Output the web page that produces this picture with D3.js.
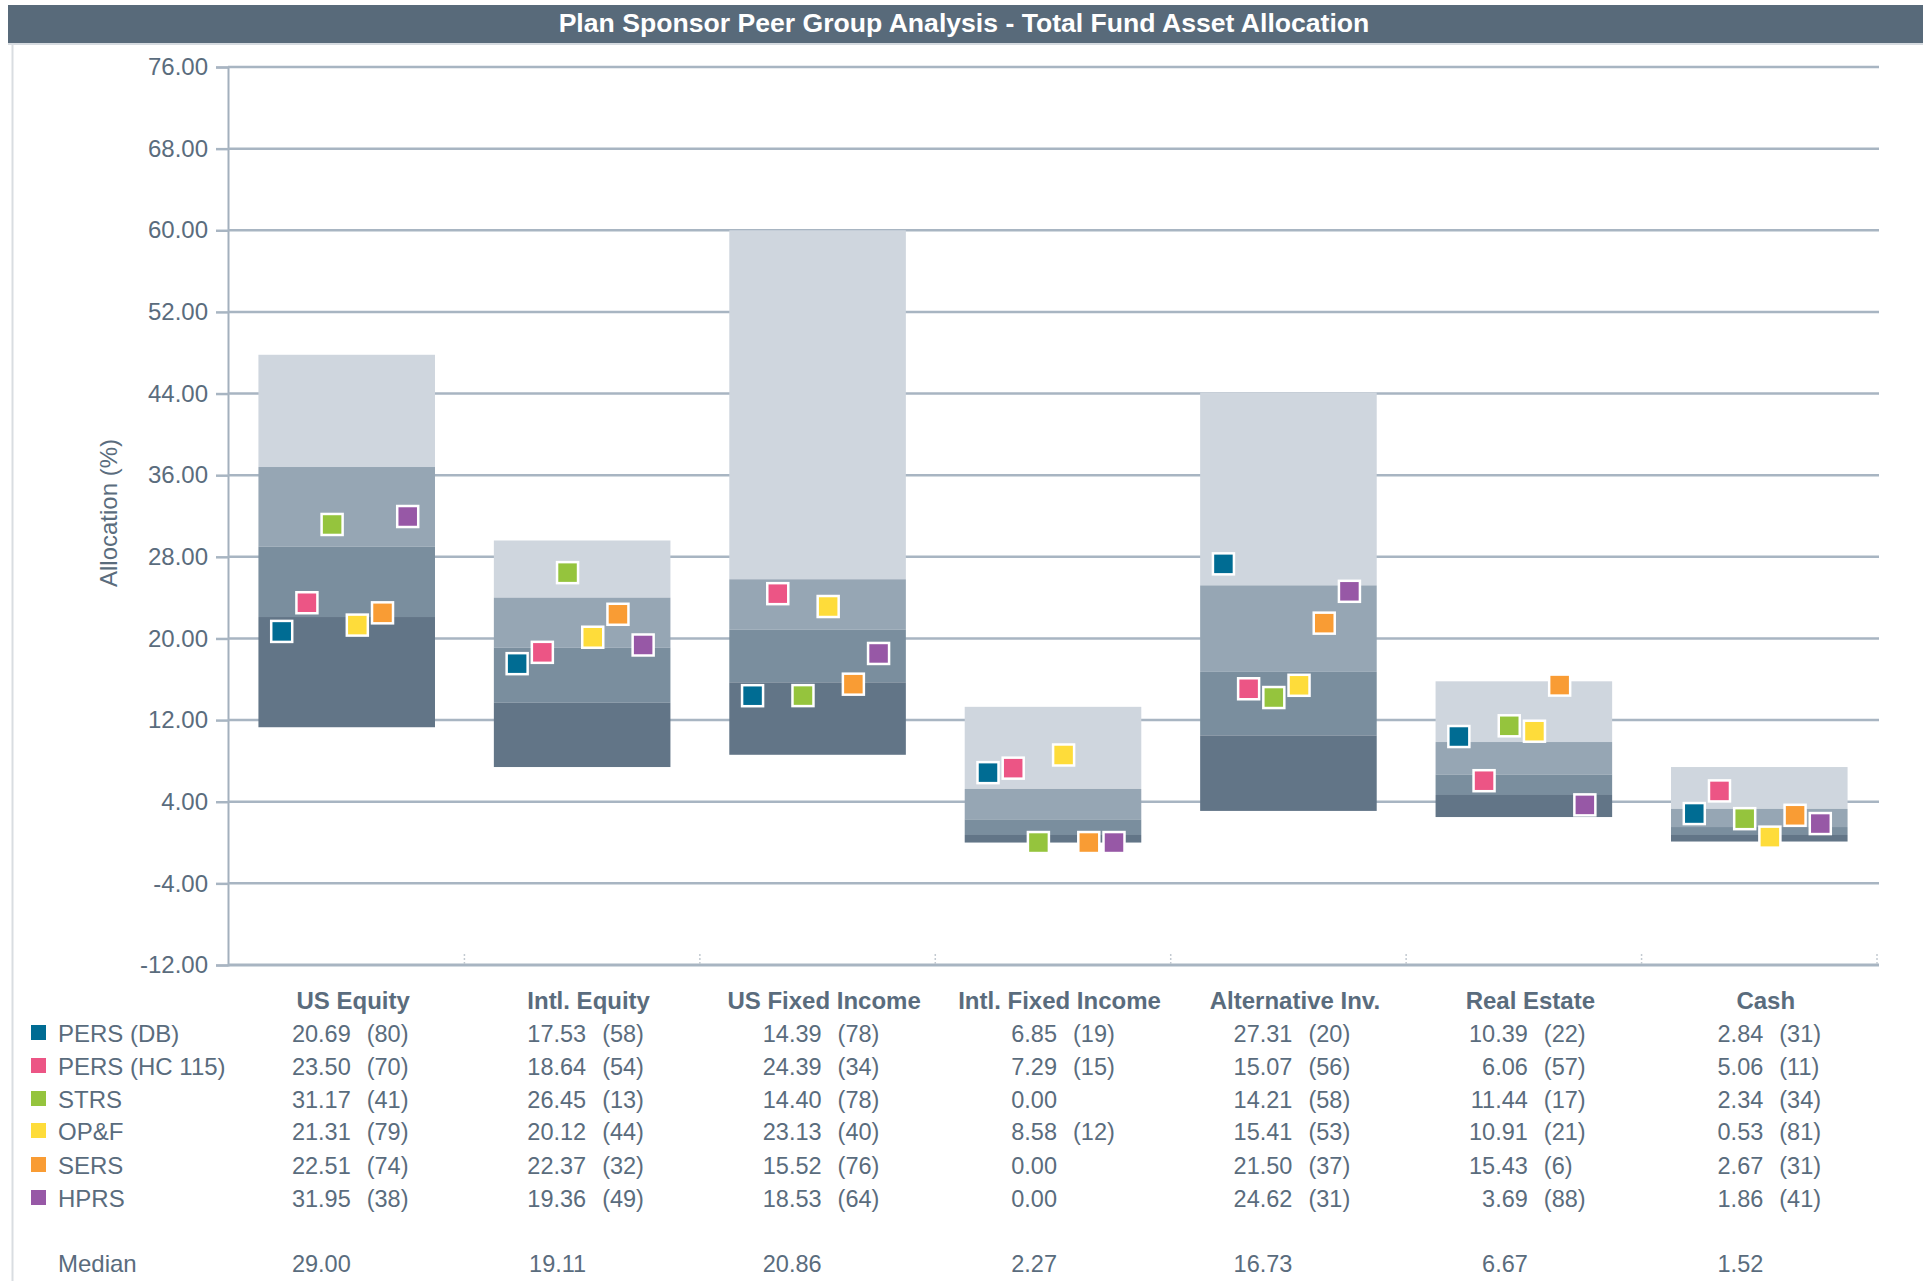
<!DOCTYPE html>
<html>
<head>
<meta charset="utf-8">
<script src="https://cdn.jsdelivr.net/npm/d3@7"></script>
<style>
  body { margin: 0; background: #fff; }
  text { font-family: "Liberation Sans", Arial, sans-serif; }
</style>
</head>
<body>
<div id="chart"></div>
<script>
// asset classes
var categories = ["US Equity", "Intl. Equity", "US Fixed Income", "Intl. Fixed Income", "Alternative Inv.", "Real Estate", "Cash"];

// peer group percentile bands (5th, 25th, median, 75th, 95th)
var p05 = [47.8, 29.6, 60.0, 13.3, 44.1, 15.8, 7.4];
var p25 = [36.8, 24.0, 25.8, 5.25, 25.2, 9.85, 3.3];
var median = [29.00, 19.11, 20.86, 2.27, 16.73, 6.67, 1.52];
var p75 = [22.1, 13.7, 15.7, 0.74, 10.5, 4.66, 0.74];
var p95 = [11.3, 7.4, 8.6, 0.0, 3.1, 2.5, 0.1];

// plans
var plans = ["PERS (DB)", "PERS (HC 115)", "STRS", "OP&F", "SERS", "HPRS"];
var planColors = ["#006c93", "#ec5585", "#95c43d", "#fedc3a", "#f99c34", "#9758a6"];

var persDb = [20.69, 17.53, 14.39, 6.85, 27.31, 10.39, 2.84];
var persDbRank = [80, 58, 78, 19, 20, 22, 31];
var persHc = [23.50, 18.64, 24.39, 7.29, 15.07, 6.06, 5.06];
var persHcRank = [70, 54, 34, 15, 56, 57, 11];
var strs = [31.17, 26.45, 14.40, 0.00, 14.21, 11.44, 2.34];
var strsRank = [41, 13, 78, null, 58, 17, 34];
var opf = [21.31, 20.12, 23.13, 8.58, 15.41, 10.91, 0.53];
var opfRank = [79, 44, 40, 12, 53, 21, 81];
var sers = [22.51, 22.37, 15.52, 0.00, 21.50, 15.43, 2.67];
var sersRank = [74, 32, 76, null, 37, 6, 31];
var hprs = [31.95, 19.36, 18.53, 0.00, 24.62, 3.69, 1.86];
var hprsRank = [38, 49, 64, null, 31, 88, 41];

var yTicks = [-12, -4, 4, 12, 20, 28, 36, 44, 52, 60, 68, 76];

var planValues = [persDb, persHc, strs, opf, sers, hprs];
var planRanks = [persDbRank, persHcRank, strsRank, opfRank, sersRank, hprsRank];

var W = 1923, H = 1281;
var textCol = "#5a6c7d";
var bandCols = ["#cfd6de", "#96a6b4", "#7a8e9e", "#627587"];
var fs = 24;

var svg = d3.select("#chart").append("svg")
  .attr("width", W)
  .attr("height", H);

svg.append("rect").attr("width", W).attr("height", H).attr("fill", "#fff");

// title bar
svg.append("rect")
  .attr("x", 8).attr("y", 5).attr("width", W - 8).attr("height", 38)
  .attr("fill", "#586a7a");
svg.append("rect")
  .attr("x", 8).attr("y", 43).attr("width", W - 8).attr("height", 2)
  .attr("fill", "#d6dbe0");
svg.append("text")
  .attr("x", 964).attr("y", 32)
  .attr("text-anchor", "middle")
  .attr("fill", "#fff")
  .attr("font-weight", "bold")
  .attr("font-size", 26.6)
  .text("Plan Sponsor Peer Group Analysis - Total Fund Asset Allocation");

// left frame line
svg.append("line")
  .attr("x1", 12.5).attr("x2", 12.5).attr("y1", 45).attr("y2", H)
  .attr("stroke", "#d9dde1").attr("stroke-width", 2);

var x = d3.scaleBand()
  .domain(categories)
  .range([229, 1877])
  .paddingInner(0.25)
  .paddingOuter(0.125);

var y = d3.scaleLinear()
  .domain([-12, 76])
  .range([965, 67]);

// gridlines + y axis
var yAxis = d3.axisLeft(y)
  .tickValues(yTicks)
  .tickSize(12)
  .tickFormat(function(d) { return d.toFixed(2); });

var gy = svg.append("g")
  .attr("transform", "translate(228,0)")
  .call(yAxis);
gy.select(".domain").attr("stroke", "#a3b0bd").attr("stroke-width", 2);
gy.selectAll(".tick line").attr("stroke", "#a8b5c2").attr("stroke-width", 2.5);
gy.selectAll(".tick text")
  .attr("x", -20)
  .attr("fill", textCol)
  .attr("font-size", fs)
  .attr("font-family", "'Liberation Sans', Arial, sans-serif");

svg.append("g").selectAll("line")
  .data(yTicks.filter(function(d) { return d > -12; }))
  .join("line")
  .attr("x1", 228).attr("x2", 1879)
  .attr("y1", function(d) { return y(d); })
  .attr("y2", function(d) { return y(d); })
  .attr("stroke", "#a8b5c2").attr("stroke-width", 2.5);

// x axis line
svg.append("line")
  .attr("x1", 228).attr("x2", 1879)
  .attr("y1", y(-12)).attr("y2", y(-12))
  .attr("stroke", "#a8b5c2").attr("stroke-width", 3);

// dotted band separators
svg.append("g").selectAll("line")
  .data(d3.range(1, categories.length + 1))
  .join("line")
  .attr("x1", function(k) { return x.range()[0] + k * x.step(); })
  .attr("x2", function(k) { return x.range()[0] + k * x.step(); })
  .attr("y1", y(-12) - 11).attr("y2", y(-12) - 1)
  .attr("stroke", "#c3cad1").attr("stroke-width", 1.5)
  .attr("stroke-dasharray", "2,2");

// y axis title
svg.append("text")
  .attr("transform", "translate(117,513) rotate(-90)")
  .attr("text-anchor", "middle")
  .attr("fill", textCol)
  .attr("font-size", fs)
  .text("Allocation (%)");

// percentile bars
var levels = [p05, p25, median, p75, p95];
var segs = [];
categories.forEach(function(c, i) {
  for (var k = 0; k < 4; k++) {
    segs.push({ cat: c, top: levels[k][i], bot: levels[k + 1][i], k: k });
  }
});

svg.append("g").selectAll("rect")
  .data(segs)
  .join("rect")
  .attr("x", function(d) { return x(d.cat); })
  .attr("width", x.bandwidth())
  .attr("y", function(d) { return y(d.top); })
  .attr("height", function(d) { return y(d.bot) - y(d.top); })
  .attr("fill", function(d) { return bandCols[d.k]; });

// plan markers
var mk = 21, gap = 25.2;
var pts = [];
plans.forEach(function(p, j) {
  categories.forEach(function(c, i) {
    pts.push({ cat: c, j: j, v: planValues[j][i] });
  });
});

svg.append("g").selectAll("rect")
  .data(pts)
  .join("rect")
  .attr("x", function(d) { return x(d.cat) + x.bandwidth() / 2 - 2 + (d.j - 2.5) * gap - mk / 2; })
  .attr("y", function(d) { return y(d.v) - mk / 2; })
  .attr("width", mk).attr("height", mk)
  .attr("fill", function(d) { return planColors[d.j]; })
  .attr("stroke", "#fff").attr("stroke-width", 2.5);

// data table below the chart
var table = svg.append("g");
var rowY = [1042, 1075, 1108, 1140, 1174, 1207];
var medianY = 1272;

table.selectAll(".hdr")
  .data(categories)
  .join("text")
  .attr("class", "hdr")
  .attr("x", function(d) { return x(d) + x.bandwidth() / 2 + 6.5; })
  .attr("y", 1009)
  .attr("text-anchor", "middle")
  .attr("font-weight", "bold")
  .attr("font-size", fs)
  .attr("fill", textCol)
  .text(function(d) { return d; });

plans.forEach(function(p, j) {
  var ry = rowY[j];
  table.append("rect")
    .attr("x", 31).attr("y", ry - 17).attr("width", 15).attr("height", 15)
    .attr("fill", planColors[j]);
  table.append("text")
    .attr("x", 58).attr("y", ry)
    .attr("font-size", fs).attr("fill", textCol)
    .text(p);
  categories.forEach(function(c, i) {
    var cx = x(c) + x.bandwidth() / 2;
    table.append("text")
      .attr("x", cx + 4).attr("y", ry)
      .attr("text-anchor", "end")
      .attr("font-size", 23.5).attr("fill", textCol)
      .text(planValues[j][i].toFixed(2));
    if (planRanks[j][i] != null) {
      table.append("text")
        .attr("x", cx + 20).attr("y", ry)
        .attr("font-size", 23.5).attr("fill", textCol)
        .text("(" + planRanks[j][i] + ")");
    }
  });
});

table.append("text")
  .attr("x", 58).attr("y", medianY)
  .attr("font-size", fs).attr("fill", textCol)
  .text("Median");
categories.forEach(function(c, i) {
  table.append("text")
    .attr("x", x(c) + x.bandwidth() / 2 + 4).attr("y", medianY)
    .attr("text-anchor", "end")
    .attr("font-size", 23.5).attr("fill", textCol)
    .text(median[i].toFixed(2));
});
</script>
</body>
</html>
